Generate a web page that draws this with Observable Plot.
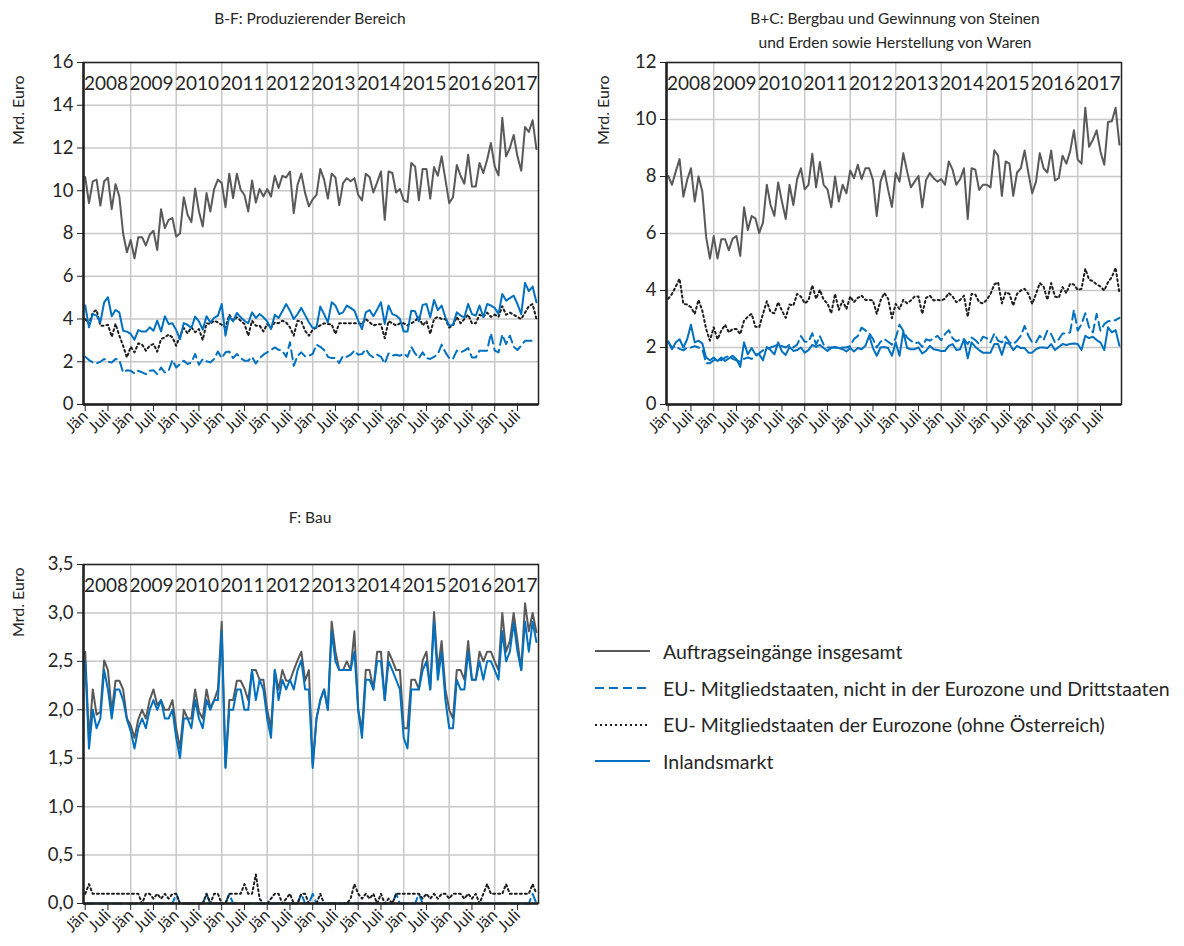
<!DOCTYPE html>
<html><head><meta charset="utf-8">
<script src="https://cdn.jsdelivr.net/npm/d3@7"></script>
<script src="https://cdn.jsdelivr.net/npm/@observablehq/plot@0.6"></script>
<style>
body{margin:0;background:#fff;font-family:Lato,"Open Sans",sans-serif;color:#262626}
#root{position:relative;width:1184px;height:946px;overflow:hidden}
.panel{position:absolute}
.title{position:absolute;font-size:15.5px;text-align:center;line-height:24px;white-space:nowrap}
.ylab{position:absolute;font-size:16px;transform:rotate(-90deg);transform-origin:left top;white-space:nowrap}
#legend{position:absolute;left:592px;top:633px;font-size:19.5px}
.li{display:flex;align-items:center;height:36.7px;white-space:nowrap}
.li svg{margin-right:11px}
</style></head>
<body><div id="root"></div>
<script>
// ---------- data ----------
const years = ["2008","2009","2010","2011","2012","2013","2014","2015","2016","2017"];
const monthTickLabels = ["Jän","Juli"];
const seriesNames = ["Auftragseingänge insgesamt","EU- Mitgliedstaaten, nicht in der Eurozone und Drittstaaten","EU- Mitgliedstaaten der Eurozone (ohne Österreich)","Inlandsmarkt"];

// B-F: Produzierender Bereich (Mrd. Euro), Jän 2008 – Dez 2017
const bfTotal = [10.64,9.42,10.44,10.52,9.31,10.44,10.61,9.14,10.31,9.73,
8.0,7.12,7.7,6.84,7.83,7.83,7.44,7.94,8.13,7.23,
9.14,8.25,8.64,8.72,7.86,8.0,9.7,8.88,8.53,10.1,
9.03,8.33,9.89,9.03,10.08,10.52,10.36,9.23,10.8,9.66,
10.8,10.05,9.8,9.03,10.48,9.45,10.08,9.73,10.08,9.73,
10.7,10.13,10.7,10.62,10.9,8.95,10.28,10.8,9.89,9.27,
9.6,9.81,11.02,10.52,9.63,10.8,10.62,9.33,10.36,10.59,
10.44,10.59,9.81,9.55,10.8,10.64,9.92,10.39,10.9,8.64,
10.9,10.83,9.92,10.08,9.55,9.47,11.3,11.14,9.55,11.02,
11.02,9.63,11.11,10.7,11.61,10.52,9.42,9.7,11.2,10.7,
10.33,11.69,10.2,10.2,11.3,10.83,11.45,12.23,11.14,10.72,
13.41,11.61,12.0,12.61,11.61,10.94,12.98,12.75,13.3,11.95];
const bfNonEuro = [2.23,2.08,1.97,1.92,2.0,2.13,2.0,1.97,2.13,2.08,
1.5,1.6,1.58,1.45,1.58,1.5,1.42,1.58,1.6,1.42,
1.73,1.5,1.58,2.08,1.73,1.89,2.05,1.89,1.97,2.36,
1.86,2.13,2.02,1.97,2.13,2.48,2.17,2.44,2.48,2.17,
2.36,2.17,2.05,2.05,2.23,1.92,2.17,2.33,2.44,2.55,
2.67,2.56,2.52,2.23,2.91,1.81,2.28,2.44,2.25,2.28,
2.37,2.8,2.7,2.55,2.23,2.17,2.17,1.94,2.28,2.23,
2.33,2.52,2.33,2.36,2.59,2.33,2.2,2.33,2.23,1.92,
2.39,2.28,2.33,2.28,2.39,2.23,2.7,2.39,2.17,2.44,
2.17,2.13,2.23,2.36,2.8,2.44,2.17,2.13,2.52,2.44,
2.52,2.64,2.2,2.2,2.52,2.52,2.52,3.33,2.52,2.44,
3.27,2.83,3.22,2.7,2.55,2.75,2.98,2.98,2.98,3.02];
const bfEuro = [4.0,3.77,4.31,4.42,3.69,3.69,3.73,3.17,3.77,3.22,
2.75,2.2,2.7,2.44,2.86,2.8,2.52,2.75,2.83,2.47,
3.06,3.14,3.27,3.14,2.75,3.22,3.58,3.33,3.61,3.38,
3.53,3.02,3.8,3.77,3.92,3.84,3.73,3.61,4.2,3.92,
4.08,3.92,3.77,3.22,3.92,3.69,3.69,3.42,3.77,3.58,
3.84,3.8,3.92,3.84,3.61,3.22,3.92,3.89,3.45,3.22,
3.5,3.6,3.7,3.8,3.77,3.75,3.3,3.8,3.8,3.8,
3.8,3.8,3.8,3.77,4.0,3.85,3.7,3.75,3.75,3.1,
3.9,3.8,3.7,3.8,3.8,3.7,3.8,3.9,4.1,3.7,
3.9,3.3,4.0,4.1,4.0,4.0,3.6,3.7,4.1,3.8,
4.0,4.2,3.8,3.8,4.2,4.1,4.3,4.1,4.2,4.1,
4.6,4.2,4.3,4.2,4.1,4.0,4.3,4.6,4.7,4.0];
const bfInland = [4.63,3.61,4.23,4.16,3.84,4.78,5.02,4.13,4.42,4.31,
3.45,3.41,3.3,3.03,3.48,3.41,3.41,3.61,3.45,3.92,
3.42,4.13,3.77,3.8,3.48,3.06,3.81,3.73,3.58,4.11,
3.89,3.5,4.13,3.84,4.05,4.16,4.7,3.22,4.11,3.89,
4.28,4.08,3.92,3.8,4.31,4.05,4.23,4.08,3.89,3.53,
4.2,4.05,4.36,4.7,4.39,4.0,4.23,4.52,4.18,3.85,
3.58,3.61,4.58,4.23,3.84,4.78,4.63,4.23,4.31,4.63,
4.52,4.39,3.92,3.53,4.31,4.42,4.13,4.44,4.78,3.77,
4.63,4.23,4.16,4.0,3.41,3.41,4.39,4.36,3.89,4.66,
4.7,4.08,4.89,4.42,4.63,4.08,3.69,3.73,4.31,4.16,
4.08,4.7,4.23,4.16,4.63,4.08,4.7,4.63,4.52,4.23,
5.17,4.86,4.98,5.09,4.7,4.23,5.69,5.3,5.52,4.78];

// B+C: Bergbau ... Herstellung von Waren
const bcTotal = [8.02,7.71,8.18,8.61,7.29,7.88,8.29,7.12,8.0,7.47,
5.88,5.12,5.91,5.12,5.8,5.8,5.41,5.82,5.91,5.21,
6.92,6.12,6.61,6.53,6.02,6.38,7.71,7.0,6.62,7.79,
7.12,6.51,7.71,7.0,7.91,8.29,7.55,7.71,8.8,7.62,
8.51,7.71,7.55,6.92,8.0,7.12,7.71,7.41,8.21,7.94,
8.41,7.91,8.29,8.29,7.88,6.61,7.82,8.21,7.53,6.93,
8.12,7.82,8.82,8.18,7.62,7.82,8.02,6.92,7.88,8.12,
7.94,7.82,7.91,7.71,8.53,8.24,7.71,7.91,8.29,6.51,
8.29,8.24,7.53,7.71,7.71,7.62,8.92,8.73,7.32,8.53,
8.45,7.32,8.14,8.29,8.91,8.12,7.41,7.82,8.82,8.29,
8.14,8.91,7.86,7.94,8.73,8.45,8.88,9.62,8.59,8.45,
10.41,9.04,9.29,9.62,8.88,8.41,9.91,9.94,10.41,9.12];
const bcNonEuro = [2.2,2.0,2.05,1.95,1.9,2.0,2.0,2.05,2.0,1.95,
1.45,1.45,1.55,1.6,1.55,1.65,1.7,1.6,1.55,1.5,
1.6,1.65,1.6,1.7,1.8,1.9,1.95,2.0,2.05,2.1,
2.05,2.0,2.1,2.0,2.1,2.4,2.2,2.2,2.5,2.1,
2.4,2.1,2.0,2.0,2.0,1.95,2.0,2.0,2.05,2.3,
2.4,2.7,2.6,2.5,2.3,2.0,2.2,2.3,2.2,2.1,
2.33,2.8,2.59,2.35,2.24,2.14,2.18,2.02,2.29,2.24,
2.33,2.41,2.26,2.47,2.61,2.33,2.21,2.29,2.29,2.12,
2.35,2.26,2.12,2.38,2.33,2.18,2.49,2.24,2.18,2.38,
2.18,2.12,2.24,2.41,2.76,2.41,2.18,2.18,2.41,2.26,
2.59,2.47,2.18,2.29,2.49,2.49,2.53,3.32,2.59,2.82,
3.2,2.71,2.53,3.18,2.59,2.82,2.92,2.94,2.96,3.04];
const bcEuro = [3.71,3.88,4.14,4.41,3.53,3.51,3.41,3.18,3.67,3.29,
2.65,2.24,2.71,2.29,2.59,2.8,2.53,2.65,2.65,2.47,
2.94,3.08,3.18,2.73,2.71,3.18,3.62,3.24,3.2,3.59,
3.29,3.04,3.51,3.47,3.88,3.79,3.55,3.65,4.18,3.71,
4.02,3.67,3.55,3.2,3.88,3.32,3.65,3.35,3.79,3.59,
3.74,3.82,3.67,3.67,3.65,3.18,3.65,3.91,3.71,3.03,
3.53,3.35,3.67,3.55,3.65,3.79,3.79,3.18,3.74,3.82,
3.65,3.67,3.65,3.71,3.91,3.79,3.59,3.67,3.82,3.08,
3.88,3.86,3.59,3.55,3.67,3.88,4.21,4.29,3.55,3.94,
3.88,3.47,3.88,4.0,4.06,3.88,3.53,3.88,4.26,4.14,
3.67,4.26,3.79,3.74,4.12,3.91,4.24,4.21,4.02,4.06,
4.76,4.38,4.33,4.21,4.14,4.0,4.29,4.47,4.8,3.91];
const bcInland = [2.21,1.94,2.18,2.29,2.0,2.29,2.8,2.18,2.24,2.14,
1.65,1.55,1.65,1.53,1.65,1.53,1.62,1.71,1.59,1.32,
2.18,1.76,1.98,1.76,1.76,1.55,2.02,1.91,1.76,2.18,
1.86,1.74,2.02,1.88,1.91,2.0,1.82,1.91,2.09,2.02,
2.09,1.98,1.88,1.98,2.02,1.98,1.94,1.86,1.98,1.86,
1.98,1.94,2.06,2.41,1.98,1.71,2.0,2.02,1.98,1.71,
2.18,1.71,2.56,1.98,1.94,1.94,2.0,1.79,1.88,2.06,
1.94,1.91,1.88,1.88,2.06,2.12,1.91,1.94,2.29,1.62,
2.18,2.02,1.91,1.82,1.82,1.82,2.12,2.12,1.74,2.18,
2.12,1.91,2.06,1.98,1.98,1.82,1.82,1.94,2.0,2.0,
1.98,2.12,1.91,2.02,2.12,2.09,2.12,2.14,2.12,1.91,
2.41,2.33,2.38,2.26,2.18,1.91,2.71,2.53,2.61,2.06];

// F: Bau
const fTotal = [2.6,1.69,2.21,1.95,1.98,2.51,2.41,1.98,2.3,2.3,
2.21,1.91,1.84,1.71,1.9,2.0,1.91,2.1,2.21,2.05,
2.1,2.0,2.0,2.1,1.81,1.6,2.0,1.91,1.91,2.21,
1.98,1.91,2.21,2.02,2.1,2.21,2.91,1.41,2.1,2.1,
2.3,2.3,2.22,2.1,2.41,2.41,2.31,2.31,2.0,1.81,
2.41,2.21,2.41,2.3,2.3,2.41,2.51,2.6,2.3,2.41,
1.43,1.91,2.1,2.21,2.0,2.91,2.6,2.41,2.41,2.5,
2.41,2.81,2.0,1.79,2.41,2.41,2.21,2.6,2.6,2.1,
2.6,2.51,2.41,2.41,1.81,1.81,2.31,2.31,2.21,2.51,
2.6,2.21,3.01,2.41,2.71,2.21,2.0,1.91,2.41,2.41,
2.31,2.71,2.31,2.31,2.6,2.5,2.6,2.6,2.5,2.41,
3.0,2.6,2.71,3.0,2.71,2.41,3.1,2.81,3.0,2.8];
const fNonEuro = [0,0,0,0,0,0,0,0,0,0,
0,0,0,0,0,0,0,0,0,0,
0,0,0,0,0.1,0,0,0,0,0,
0,0,0.1,0,0,0,0,0,0.1,0,
0,0,0,0,0,0,0,0,0,0,
0,0,0,0,0,0,0,0.1,0,0,
0.1,0,0,0,0,0,0,0,0,0,
0,0,0,0,0,0,0,0,0,0,
0,0,0.1,0,0,0,0,0,0.1,0,
0,0,0,0,0,0,0,0,0,0,
0,0,0,0,0,0,0,0,0,0,
0,0,0,0,0,0,0,0,0.1,0];
const fEuro = [0.1,0.2,0.1,0.1,0.1,0.1,0.1,0.1,0.1,0.1,
0.1,0.1,0.1,0.1,0.1,0.0,0.1,0.1,0.05,0.1,
0.05,0.1,0.05,0.1,0.1,0.0,0.0,0.0,0.0,0.0,
0.0,0.0,0.1,0.0,0.1,0.1,0.0,0.0,0.1,0.1,
0.1,0.1,0.2,0.1,0.1,0.3,0.05,0.0,0.0,0.05,
0.1,0.1,0.0,0.05,0.1,0.0,0.0,0.1,0.1,0.0,
0.0,0.0,0.1,0.0,0.0,0.0,0.0,0.0,0.0,0.0,
0.05,0.2,0.1,0.05,0.1,0.05,0.1,0.0,0.1,0.0,
0.05,0.0,0.1,0.1,0.1,0.1,0.1,0.1,0.1,0.05,
0.1,0.05,0.1,0.05,0.1,0.1,0.05,0.1,0.1,0.1,
0.05,0.1,0.05,0.1,0.0,0.1,0.2,0.1,0.1,0.1,
0.1,0.2,0.1,0.1,0.1,0.1,0.1,0.1,0.2,0.1];
const fInland = [2.5,1.6,2.0,1.81,1.91,2.41,2.21,1.91,2.21,2.21,
2.1,1.9,1.78,1.6,1.81,1.91,1.81,2.0,2.1,2.0,
2.1,1.91,1.91,2.0,1.71,1.5,1.91,1.91,1.81,2.1,
1.91,1.81,2.1,2.0,2.1,2.1,2.81,1.4,2.0,2.0,
2.21,2.21,2.0,2.0,2.41,2.1,2.31,2.21,1.91,1.71,
2.41,2.1,2.31,2.21,2.31,2.21,2.41,2.51,2.21,2.21,
1.4,1.91,2.1,2.21,2.0,2.81,2.5,2.41,2.41,2.41,
2.41,2.6,2.0,1.71,2.31,2.31,2.21,2.5,2.5,2.1,
2.5,2.41,2.31,2.21,1.71,1.6,2.21,2.21,2.21,2.41,
2.5,2.21,2.91,2.31,2.6,2.1,1.81,1.81,2.31,2.21,
2.21,2.6,2.31,2.31,2.5,2.31,2.5,2.5,2.41,2.31,
2.81,2.5,2.6,2.9,2.6,2.41,2.91,2.6,2.91,2.7];

// ---------- styles ----------
const GRAY = "#595959", BLUE = "#0070c0", DOT = "#1e1e1e", GRID = "#c8c8c8";
const styles = [
  {stroke: GRAY, strokeWidth: 2},
  {stroke: BLUE, strokeWidth: 2, strokeDasharray: "9,5"},
  {stroke: DOT, strokeWidth: 2, strokeDasharray: "2,3"},
  {stroke: BLUE, strokeWidth: 2}
];
const xTicks = d3.range(0, 120, 6);
const yearStarts = d3.range(12, 120, 12);

function panel({series, yMax, yStep, fmt, height, marginTop, marginBottom, boldYear}) {
  const yTicks = d3.range(0, yMax + yStep/2, yStep);
  return Plot.plot({
    width: 560, height, marginLeft: 83, marginRight: 22, marginTop, marginBottom,
    x: {domain: [-0.45, 119.55]},
    y: {domain: [0, yMax]},
    style: {fontFamily: "Lato, 'Open Sans', sans-serif", fontSize: "17px", color: "#262626", background: "transparent", overflow: "visible"},
    marks: [
      Plot.ruleY(yTicks, {stroke: GRID, strokeWidth: 1.5}),
      Plot.ruleX(yearStarts, {stroke: GRID, strokeWidth: 1.5}),
      ...series.map((s, k) => Plot.lineY(s, {...styles[k]})),
      Plot.text(years, {x: (d, i) => i * 12 + 5.5, text: d => d, frameAnchor: "top", lineAnchor: "middle", dy: 21,
        fontSize: 19, fill: "#262626", fontWeight: d => d === boldYear ? "bold" : "normal"}),
      Plot.frame({stroke: "#222", strokeWidth: 1.5}),
      Plot.ruleX([-0.45], {stroke: "#222", strokeWidth: 2.5}),
      Plot.ruleY([0], {stroke: "#222", strokeWidth: 2.5}),
      Plot.axisY({ticks: yTicks, tickFormat: fmt, tickSize: 6, tickPadding: 4, label: null, fontSize: 18.5, stroke: "#222"}),
      Plot.axisX({ticks: xTicks, tickFormat: i => monthTickLabels[(i % 12) / 6], tickRotate: -45, tickSize: 7,
        tickPadding: 2, label: null, fontSize: 16.5, stroke: "#222"})
    ]
  });
}

const root = document.getElementById("root");
function place(el, left, top) {
  const d = document.createElement("div"); d.className = "panel";
  d.style.left = left + "px"; d.style.top = top + "px"; d.appendChild(el); root.appendChild(d);
}
function addText(cls, html, css) {
  const d = document.createElement("div"); d.className = cls; d.innerHTML = html;
  Object.assign(d.style, css); root.appendChild(d);
}

place(panel({series: [bfTotal, bfNonEuro, bfEuro, bfInland], yMax: 16, yStep: 2, fmt: d3.format("d"),
  height: 460, marginTop: 62, marginBottom: 56, boldYear: "2016"}), 0, 0);
place(panel({series: [bcTotal, bcNonEuro, bcEuro, bcInland], yMax: 12, yStep: 2, fmt: d3.format("d"),
  height: 460, marginTop: 62, marginBottom: 56}), 583, 0);
place(panel({series: [fTotal, fNonEuro, fEuro, fInland], yMax: 3.5, yStep: 0.5,
  fmt: d => d.toFixed(1).replace(".", ","), height: 446, marginTop: 64, marginBottom: 43}), 0, 500);

addText("title", "B-F: Produzierender Bereich", {left: "160px", width: "300px", top: "6px"});
addText("title", "B+C: Bergbau und Gewinnung von Steinen<br>und Erden sowie Herstellung von Waren", {left: "745px", width: "300px", top: "6px"});
addText("title", "F: Bau", {left: "160px", width: "300px", top: "505px"});
addText("ylab", "Mrd. Euro", {left: "8px", top: "145px"});
addText("ylab", "Mrd. Euro", {left: "593px", top: "145px"});
addText("ylab", "Mrd. Euro", {left: "8px", top: "637px"});

const legend = document.createElement("div"); legend.id = "legend";
seriesNames.forEach((name, k) => {
  const s = styles[k];
  const row = document.createElement("div"); row.className = "li";
  row.innerHTML = `<svg width="60" height="10"><line x1="3" x2="58" y1="5" y2="5" stroke="${s.stroke}" stroke-width="${s.strokeWidth}" ${s.strokeDasharray ? `stroke-dasharray="${s.strokeDasharray}"` : ""}/></svg><span>${name}</span>`;
  legend.appendChild(row);
});
root.appendChild(legend);
</script></body></html>
